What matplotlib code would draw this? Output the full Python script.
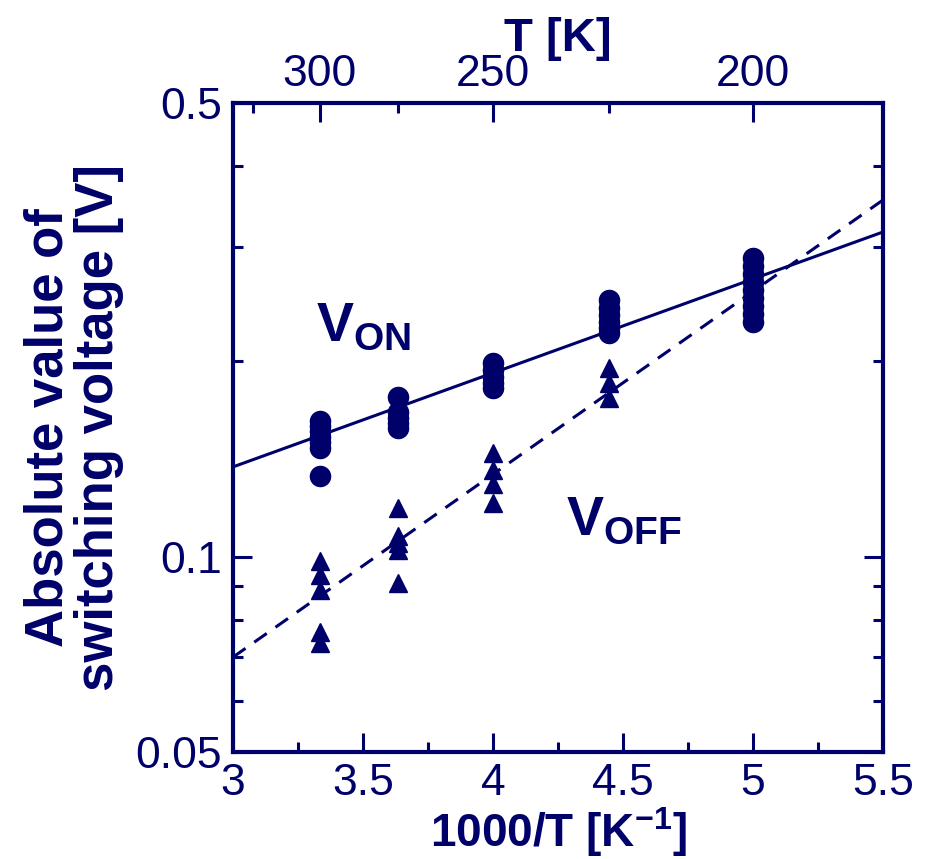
import matplotlib.pyplot as plt
import numpy as np
from matplotlib.ticker import FixedLocator, NullFormatter, FixedFormatter

navy = '#00006a'
plt.rcParams['font.family'] = ['Liberation Sans', 'DejaVu Sans']
plt.rcParams['mathtext.fontset'] = 'custom'
plt.rcParams['mathtext.rm'] = 'Liberation Sans'
plt.rcParams['mathtext.bf'] = 'Liberation Sans:bold'

# measured switching voltages, grouped by temperature [K]
temps_on = [300]*6 + [275]*5 + [250]*5 + [225]*6 + [200]*9
v_on = [0.162, 0.159, 0.156, 0.153, 0.150, 0.147,
        0.176, 0.167, 0.1636, 0.1606, 0.158,
        0.1988, 0.194, 0.189, 0.185, 0.182,
        0.2487, 0.2417, 0.2357, 0.230, 0.225, 0.221,
        0.2886, 0.2805, 0.2726, 0.265, 0.2576, 0.2504, 0.2433, 0.2365, 0.230]
temps_on_extra = [300]
v_on_extra = [0.133]

temps_off = [300]*5 + [275]*5 + [250]*4 + [225]*3 + [200]*3
v_off = [0.0984, 0.0937, 0.0889, 0.0765, 0.0736,
         0.1188, 0.1076, 0.105, 0.1024, 0.0911,
         0.1444, 0.136, 0.1294, 0.121,
         0.1953, 0.185, 0.1755,
         0.262, 0.250, 0.240]

# Arrhenius-type fits: log10(V) = a + b * (1000/T)
fit_on = (-1.2961, 0.1448)
fit_off = (-2.0003, 0.2818)

x_fit = np.linspace(3, 5.5, 50)

fig = plt.figure(figsize=(9.32, 8.59), dpi=100)
ax = fig.add_axes([0.25, 0.1246, 0.6974, 0.7554])

ax.plot(x_fit, 10**(fit_on[0] + fit_on[1]*x_fit), '-', color=navy, lw=2.2, zorder=2)
ax.plot(x_fit, 10**(fit_off[0] + fit_off[1]*x_fit), '--', color=navy, lw=2.2,
        dashes=(5, 3.5), zorder=2)

x_off = 1000/np.array(temps_off)
ax.plot(x_off, v_off, '^', color=navy, ms=13, zorder=3, ls='none')
x_on = 1000/np.array(temps_on + temps_on_extra)
ax.plot(x_on, v_on + v_on_extra, 'o', color=navy, ms=14.5, zorder=4, ls='none')

ax.set_yscale('log')
ax.set_xlim(3, 5.5)
ax.set_ylim(0.05, 0.5)

ax.xaxis.set_major_locator(FixedLocator([3, 3.5, 4, 4.5, 5, 5.5]))
ax.xaxis.set_minor_locator(FixedLocator([3.25, 3.75, 4.25, 4.75, 5.25]))
ax.set_xticklabels(['3', '3.5', '4', '4.5', '5', '5.5'])
ax.yaxis.set_major_locator(FixedLocator([0.05, 0.1, 0.5]))
ax.yaxis.set_major_formatter(FixedFormatter(['0.05', '0.1', '0.5']))
ax.yaxis.set_minor_locator(FixedLocator([0.06, 0.07, 0.08, 0.09, 0.2, 0.3, 0.4]))
ax.yaxis.set_minor_formatter(NullFormatter())

ax.tick_params(which='both', direction='in', color=navy, labelcolor=navy,
               top=False, right=True, labelsize=32, width=2.2)
ax.tick_params(which='major', length=14, pad=8)
ax.tick_params(which='minor', length=7)
for s in ax.spines.values():
    s.set_color(navy)
    s.set_linewidth(3)

ax.set_xlabel('1000/T [K$^{\\mathbf{-1}}$]', fontsize=33, fontweight='bold', color=navy,
              labelpad=1)
ax.set_ylabel('Absolute value of\nswitching voltage [V]', fontsize=38,
              fontweight='bold', color=navy, labelpad=8, linespacing=1.02)

top = ax.secondary_xaxis('top', functions=(lambda x: x, lambda x: x))
top.xaxis.set_major_locator(FixedLocator([1000/300, 1000/250, 1000/200]))
top.xaxis.set_major_formatter(FixedFormatter(['300', '250', '200']))
top.xaxis.set_minor_locator(FixedLocator([1000/325, 1000/275, 1000/225]))
top.tick_params(which='both', direction='in', color=navy, labelcolor=navy,
                labelsize=32, width=2.2)
top.tick_params(which='major', length=14, pad=6)
top.tick_params(which='minor', length=7)
top.spines['top'].set_visible(False)
top.set_xlabel('T [K]', fontsize=34, fontweight='bold', color=navy, labelpad=2)

ax.text(3.32, 0.215, 'V$_{\\mathbf{ON}}$', fontsize=40, fontweight='bold', color=navy)
ax.text(4.28, 0.108, 'V$_{\\mathbf{OFF}}$', fontsize=40, fontweight='bold', color=navy)

fig.savefig('out.png', dpi=100)
